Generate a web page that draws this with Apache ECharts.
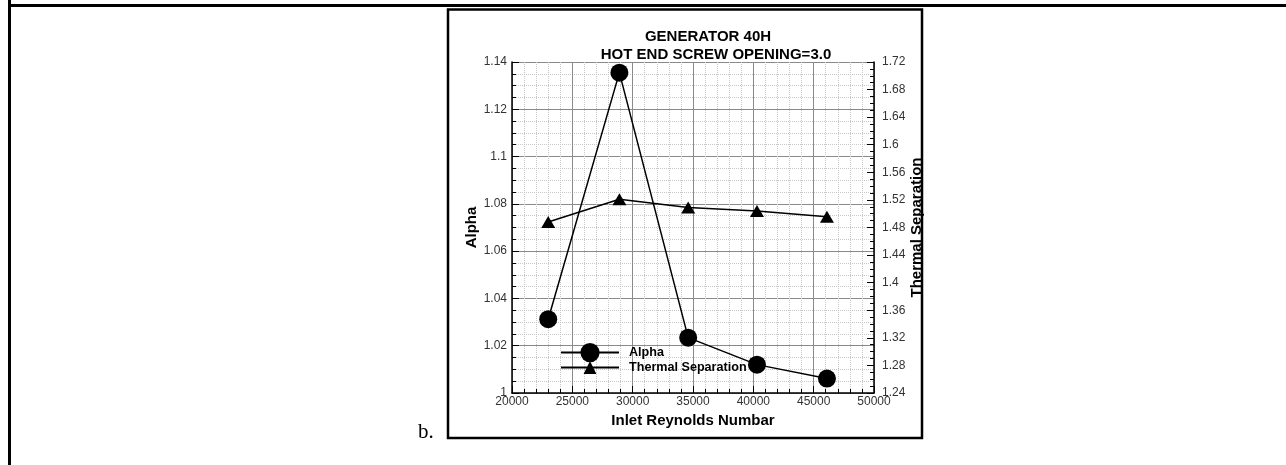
<!DOCTYPE html>
<html>
<head>
<meta charset="utf-8">
<script src="https://cdn.jsdelivr.net/npm/echarts@6/dist/echarts.min.js"></script>
<style>
html,body{margin:0;padding:0;background:#fff;}
#chart{width:1286px;height:465px;}
</style>
</head>
<body>
<div id="chart"></div>
<script>
// Data
const reynolds = [23000, 28900, 34600, 40300, 46100];
const alphaValues = [1.0312, 1.1355, 1.0234, 1.0120, 1.0061];
const thermalValues = [1.488, 1.521, 1.509, 1.504, 1.4955];
const titleLines = ['GENERATOR 40H', 'HOT END SCREW OPENING=3.0'];
const seriesNames = ['Alpha', 'Thermal Separation'];
const xName = 'Inlet Reynolds Numbar';

const FONT = '"Liberation Sans", Arial, sans-serif';
const chart = echarts.init(document.getElementById('chart'), null, {renderer: 'canvas'});

function pairs(xs, ys) { return xs.map((x, i) => [x, ys[i]]); }

const labelStyle = {color: '#333', fontSize: 12, fontFamily: FONT};
const legendText = {fontFamily: FONT, fontSize: 12.6, fontWeight: 'bold', color: '#000', padding: [0, 0, 0, 5]};

chart.setOption({
  animation: false,
  backgroundColor: '#fff',
  grid: {left: 512, top: 62, right: 412, bottom: 72, containLabel: false},
  legend: [
    {orient: 'vertical', left: 555, top: 338, padding: 5, itemWidth: 58, itemHeight: 24, textStyle: legendText, data: [seriesNames[0]]},
    {orient: 'vertical', left: 555, top: 356, padding: 5, itemWidth: 58, itemHeight: 16, textStyle: legendText, data: [seriesNames[1]]}
  ],
  xAxis: {
    type: 'value', min: 20000, max: 50000, interval: 5000,
    name: xName, nameLocation: 'middle', nameGap: 16,
    nameTextStyle: {fontFamily: FONT, fontSize: 15, fontWeight: 'bold', color: '#000'},
    axisLine: {show: true, lineStyle: {color: '#000', width: 1.5}},
    axisTick: {show: true, inside: true, length: 7, lineStyle: {color: '#000'}},
    minorTick: {show: true, splitNumber: 5, length: 4, lineStyle: {color: '#000'}},
    axisLabel: Object.assign({margin: 3, formatter: v => String(v)}, labelStyle),
    splitLine: {show: true, lineStyle: {color: '#8a8a8a', width: 1}},
    minorSplitLine: {show: true, lineStyle: {color: '#c8c8c8', type: 'dotted', width: 1}}
  },
  yAxis: [{
    type: 'value', min: 1, max: 1.14, interval: 0.02, position: 'left',
    name: seriesNames[0], nameLocation: 'middle', nameGap: 32, nameRotate: 90,
    nameTextStyle: {fontFamily: FONT, fontSize: 15, fontWeight: 'bold', color: '#000'},
    axisLine: {show: true, lineStyle: {color: '#000', width: 1.5}},
    axisTick: {show: true, inside: true, length: 7, lineStyle: {color: '#000'}},
    minorTick: {show: true, splitNumber: 4, length: 4, lineStyle: {color: '#000'}},
    axisLabel: Object.assign({margin: 5}, labelStyle),
    splitLine: {show: true, lineStyle: {color: '#8a8a8a', width: 1}},
    minorSplitLine: {show: true, lineStyle: {color: '#c8c8c8', type: 'dotted', width: 1}}
  }, {
    type: 'value', min: 1.24, max: 1.72, interval: 0.04, position: 'right',
    name: seriesNames[1], nameLocation: 'middle', nameGap: 34, nameRotate: 90,
    nameTextStyle: {fontFamily: FONT, fontSize: 15, fontWeight: 'bold', color: '#000'},
    axisLine: {show: true, lineStyle: {color: '#000', width: 1.5}},
    axisTick: {show: true, inside: true, length: 7, lineStyle: {color: '#000'}},
    minorTick: {show: true, splitNumber: 4, length: 4, lineStyle: {color: '#000'}},
    axisLabel: Object.assign({margin: 8}, labelStyle),
    splitLine: {show: false},
    minorSplitLine: {show: false}
  }],
  series: [{
    name: seriesNames[1], type: 'line', yAxisIndex: 1,
    data: pairs(reynolds, thermalValues),
    symbol: 'triangle', symbolSize: [14, 12],
    itemStyle: {color: '#000'},
    lineStyle: {color: '#000', width: 1.5},
    z: 3
  }, {
    name: seriesNames[0], type: 'line', yAxisIndex: 0,
    data: pairs(reynolds, alphaValues),
    symbol: 'circle', symbolSize: 18,
    itemStyle: {color: '#000'},
    lineStyle: {color: '#000', width: 1.5},
    z: 4
  }],
  graphic: [
    {type: 'rect', shape: {x: 8, y: 4, width: 1278, height: 3}, style: {fill: '#000'}, silent: true},
    {type: 'rect', shape: {x: 8, y: 0, width: 3, height: 465}, style: {fill: '#000'}, silent: true},
    {type: 'rect', shape: {x: 448, y: 9.5, width: 474, height: 428.5}, style: {fill: null, stroke: '#000', lineWidth: 2.5}, silent: true},
    {type: 'text', x: 708, y: 37, style: {text: titleLines[0], font: 'bold 15px ' + FONT, fill: '#000', textAlign: 'center', textVerticalAlign: 'middle'}},
    {type: 'text', x: 716, y: 55, style: {text: titleLines[1], font: 'bold 15px ' + FONT, fill: '#000', textAlign: 'center', textVerticalAlign: 'middle'}},
    {type: 'text', x: 418, y: 443, style: {text: 'b.', font: '21px "Liberation Serif", "Times New Roman", serif', fill: '#000', textAlign: 'left', textVerticalAlign: 'bottom'}}
  ]
});
</script>
</body>
</html>
